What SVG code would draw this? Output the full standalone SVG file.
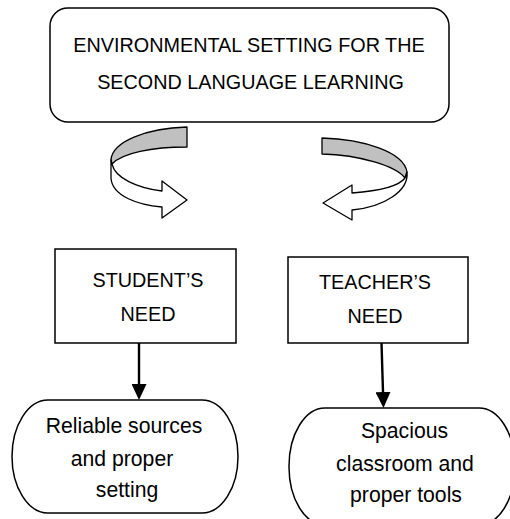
<svg xmlns="http://www.w3.org/2000/svg" width="510" height="519" viewBox="0 0 510 519">
  <style>
    .box { fill: #ffffff; stroke: #000000; stroke-width: 1.5; }
    .band { stroke: #000000; stroke-width: 1.3; stroke-linejoin: round; }
    .back { fill: #c0c0c0; }
    .front { fill: #ffffff; }
    .caps { font-family: "Liberation Sans", Arial, sans-serif; font-size: 19.8px; fill: #000000; text-anchor: middle; }
    .lower { font-family: "Liberation Sans", Arial, sans-serif; font-size: 21.2px; fill: #000000; text-anchor: middle; }
    .link { stroke: #000000; stroke-width: 2.4; fill: none; }
  </style>
  <defs>
    <marker id="head" markerUnits="userSpaceOnUse" viewBox="0 0 16 15" refX="0" refY="7.5" markerWidth="16" markerHeight="15" orient="auto">
      <path d="M0,0 L16,7.5 L0,15 Z" fill="#000000"/>
    </marker>
  </defs>

  <!-- main topic -->
  <g id="environment">
    <rect class="box" x="50" y="8" width="399" height="114" rx="18" ry="18"/>
    <text class="caps" x="249" y="52">ENVIRONMENTAL SETTING FOR THE</text>
    <text class="caps" x="250.5" y="89">SECOND LANGUAGE LEARNING</text>
  </g>

  <!-- curved arrows turning toward each side -->
  <g id="turn-left-side">
    <path class="band back" d="M187,127 C146,128 112,142 111,160 L112,164 C122,153 152,147 187,147 Z"/>
    <path class="band front" d="M111,160 L111,178 C112,196 138,205 162,207 L162,218 L187,200 L162,181 L162,191 C137,188 115,178 112,164 Z"/>
  </g>
  <g id="turn-right-side">
    <path class="band back" d="M322,138 C363,139 404,152 407,172 L405,178 C396,166 360,155 322,154 Z"/>
    <path class="band front" d="M407,172 C409,191 384,207 352,210 L352,220 L323,203 L352,185 L352,193 C379,191 399,186 405,178 Z"/>
  </g>

  <!-- needs -->
  <g id="student-need">
    <rect class="box" x="55" y="249" width="181" height="94"/>
    <text class="caps" x="148" y="287">STUDENT’S</text>
    <text class="caps" x="148" y="321">NEED</text>
  </g>
  <g id="teacher-need">
    <rect class="box" x="288" y="257" width="180" height="86"/>
    <text class="caps" x="375" y="289">TEACHER’S</text>
    <text class="caps" x="375" y="323">NEED</text>
  </g>

  <!-- outcomes -->
  <g id="student-outcome">
    <rect class="box" x="12" y="400" width="226" height="113" rx="36" ry="56.5"/>
    <text class="lower" x="124" y="433">Reliable sources</text>
    <text class="lower" x="122" y="466">and proper</text>
    <text class="lower" x="127" y="497">setting</text>
  </g>
  <g id="teacher-outcome">
    <rect class="box" x="289" y="408" width="226" height="117" rx="36" ry="58"/>
    <text class="lower" x="404.5" y="438">Spacious</text>
    <text class="lower" x="405" y="471">classroom and</text>
    <text class="lower" x="406" y="502">proper tools</text>
  </g>

  <!-- connectors -->
  <g id="connectors">
    <path class="link" d="M139,343 L139,384" marker-end="url(#head)"/>
    <path class="link" d="M381.5,343 L383,392" marker-end="url(#head)"/>
  </g>
</svg>
